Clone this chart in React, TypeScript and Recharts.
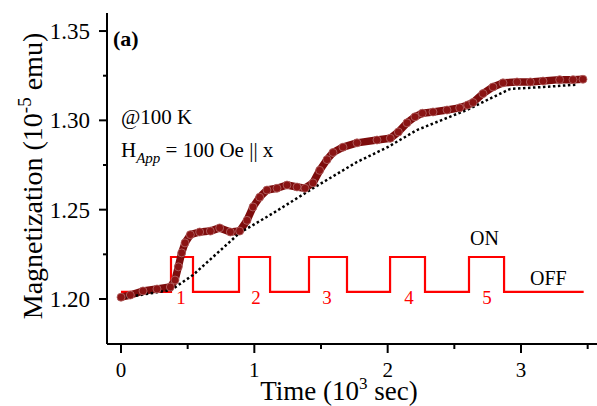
import React from "react";
import { ComposedChart, Line, XAxis, YAxis } from "recharts";

// measured magnetization (10^3 sec, 10^-5 emu)
const timeK = [
  0, 0.07, 0.165, 0.27, 0.37, 0.405, 0.43, 0.455, 0.48, 0.52, 0.59, 0.67, 0.74,
  0.82, 0.89, 0.945, 0.99, 1.04, 1.095, 1.17, 1.245, 1.32, 1.38, 1.44, 1.49,
  1.545, 1.59, 1.665, 1.77, 1.92, 2.02, 2.08, 2.145, 2.205, 2.26, 2.34, 2.445,
  2.54, 2.6, 2.64, 2.715, 2.79, 2.865, 2.97, 3.07, 3.165, 3.29, 3.39, 3.465,
];
const magnetization = [
  1.201, 1.2022, 1.2045, 1.2056, 1.2067, 1.2106, 1.218, 1.2258, 1.2314, 1.236,
  1.2375, 1.238, 1.2398, 1.2375, 1.238, 1.244, 1.2515, 1.257, 1.261, 1.262,
  1.2638, 1.2627, 1.262, 1.265, 1.272, 1.278, 1.282, 1.285, 1.2874, 1.289,
  1.29, 1.2935, 1.2986, 1.302, 1.304, 1.3047, 1.3058, 1.307, 1.3086, 1.31,
  1.315, 1.3187, 1.321, 1.3215, 1.3215, 1.322, 1.3228, 1.3228, 1.323,
];

// dotted baseline
const baseTime = [0, 0.375, 0.54, 0.89, 1.14, 1.44, 1.77, 2.0, 2.22, 2.6, 2.79, 2.92, 3.17, 3.42];
const baseMag = [
  1.2005, 1.205, 1.2134, 1.237, 1.248, 1.262, 1.2767, 1.285, 1.2946, 1.306,
  1.313, 1.3176, 1.3187, 1.32,
];

// light ON/OFF switching
const LOW = 1.204;
const HIGH = 1.2235;
const switchTime = [0, 0.375, 0.54, 0.885, 1.118, 1.41, 1.695, 2.018, 2.28, 2.61, 2.873, 3.47];
const switchLevel = [LOW, HIGH, LOW, HIGH, LOW, HIGH, LOW, HIGH, LOW, HIGH, LOW, LOW];

const xTicks = [0, 0.5, 1, 1.5, 2, 2.5, 3, 3.5];
const yTicks = [1.2, 1.225, 1.25, 1.275, 1.3, 1.325, 1.35];

const curveData = timeK.map((t, i) => ({ t, m: magnetization[i] }));
const baseData = baseTime.map((t, i) => ({ t, b: baseMag[i] }));
const switchData = switchTime.map((t, i) => ({ t, s: switchLevel[i] }));

const FONT = "'Liberation Serif', 'Times New Roman', serif";

const YTick = (props: any) => {
  const { x, y, payload } = props;
  const v = payload.value;
  const major = Math.abs(v * 20 - Math.round(v * 20)) < 1e-6;
  return (
    <g>
      <line x1={x} x2={x - (major ? 8 : 4)} y1={y} y2={y} stroke="#000" strokeWidth={2} />
      {major && (
        <text x={x - 17} y={y + 8} textAnchor="end" fontFamily={FONT} fontSize={23} fill="#000">
          {v.toFixed(2)}
        </text>
      )}
    </g>
  );
};

const XTick = (props: any) => {
  const { x, y, payload } = props;
  const v = payload.value;
  const major = Number.isInteger(v);
  return (
    <g>
      <line x1={x} x2={x} y1={y} y2={y + (major ? 9 : 5)} stroke="#000" strokeWidth={2} />
      {major && (
        <text x={x} y={y + 33} textAnchor="middle" fontFamily={FONT} fontSize={21} fill="#000">
          {v}
        </text>
      )}
    </g>
  );
};

const Dot = (props: any) => {
  const { cx, cy, index } = props;
  return (
    <circle key={index} cx={cx} cy={cy} r={4} fill="#8a1414" stroke="#b56a6a" strokeWidth={0.8} />
  );
};

const redNums = [
  { n: "1", x: 181 },
  { n: "2", x: 256 },
  { n: "3", x: 327 },
  { n: "4", x: 409 },
  { n: "5", x: 487 },
];

export default function App() {
  return (
    <div style={{ position: "absolute", left: 0, top: 0, width: 597, height: 406, overflow: "hidden", background: "#fff" }}>
      <ComposedChart width={597} height={406} margin={{ top: 13, right: 0, bottom: 0, left: 0 }}>
        <XAxis
          xAxisId="top"
          orientation="top"
          type="number"
          dataKey="t"
          domain={[-0.105, 3.57]}
          allowDataOverflow
          height={0}
          tick={false}
          tickLine={false}
          axisLine={{ stroke: "#000", strokeWidth: 2 }}
        />
        <XAxis
          type="number"
          dataKey="t"
          domain={[-0.105, 3.57]}
          allowDataOverflow
          ticks={xTicks}
          interval={0}
          height={62}
          tickSize={0}
          tickMargin={0}
          tickLine={false}
          tick={<XTick />}
          axisLine={{ stroke: "#000", strokeWidth: 2 }}
        />
        <YAxis
          type="number"
          domain={[1.1748, 1.3601]}
          allowDataOverflow
          ticks={yTicks}
          interval={0}
          width={107}
          tickSize={0}
          tickMargin={0}
          tickLine={false}
          tick={<YTick />}
          axisLine={{ stroke: "#000", strokeWidth: 2 }}
        />
        <Line
          data={switchData}
          dataKey="s"
          type="stepAfter"
          stroke="#ff0000"
          strokeWidth={2.2}
          dot={false}
          isAnimationActive={false}
        />
        <Line
          data={curveData}
          dataKey="m"
          type="linear"
          stroke="#7d0c0c"
          strokeWidth={7.5}
          strokeLinejoin="round"
          dot={<Dot />}
          isAnimationActive={false}
        />
        <Line
          data={baseData}
          dataKey="b"
          type="linear"
          stroke="#000"
          strokeWidth={2.5}
          strokeDasharray="2.5 2.5"
          dot={false}
          isAnimationActive={false}
        />
      </ComposedChart>
      <svg
        width={597}
        height={406}
        style={{ position: "absolute", left: 0, top: 0, pointerEvents: "none" }}
        fontFamily={FONT}
      >
        <text transform="translate(42,176) rotate(-90)" textAnchor="middle" fontSize={28} fill="#000">
          Magnetization (10
          <tspan fontSize={19} dy={-11}>-5</tspan>
          <tspan dy={11}> emu)</tspan>
        </text>
        <text x={339} y={400} textAnchor="middle" fontSize={27} fill="#000">
          Time (10
          <tspan fontSize={17} dy={-11}>3</tspan>
          <tspan dy={11}> sec)</tspan>
        </text>
        <text x={113} y={46} fontSize={22} fontWeight="bold" fill="#000">(a)</text>
        <text x={121} y={124} fontSize={21} fill="#000">@100 K</text>
        <text x={121} y={157} fontSize={21} fill="#000">
          H
          <tspan fontSize={15} fontStyle="italic" dy={6}>App</tspan>
          <tspan dy={-6}> = 100 Oe || x</tspan>
        </text>
        <text x={470} y={245} fontSize={20} fill="#000">ON</text>
        <text x={530} y={285} fontSize={20} fill="#000">OFF</text>
        {redNums.map((r) => (
          <text key={r.n} x={r.x} y={304} textAnchor="middle" fontSize={19} fill="#ff0000">
            {r.n}
          </text>
        ))}
      </svg>
    </div>
  );
}
